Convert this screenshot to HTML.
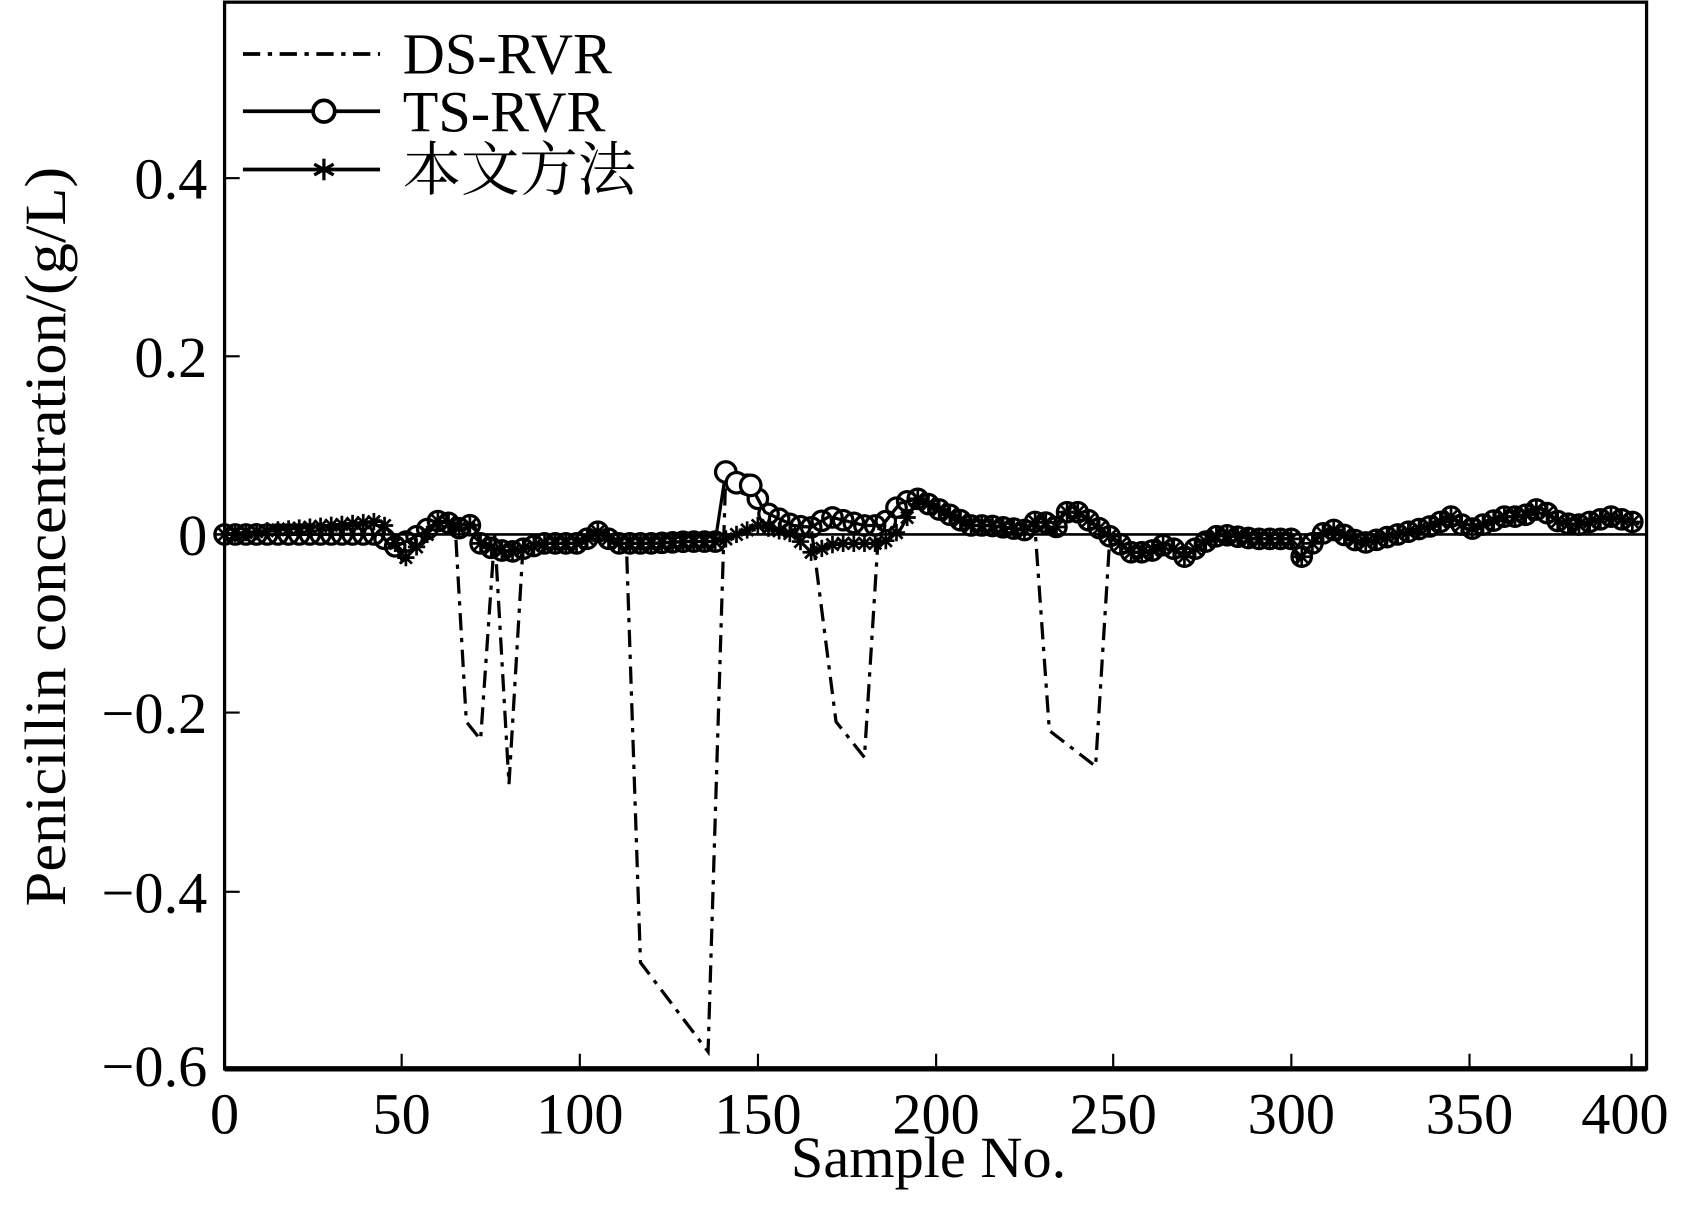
<!DOCTYPE html>
<html><head><meta charset="utf-8"><style>
html,body{margin:0;padding:0;background:#fff;overflow:hidden}
svg{display:block}
text{font-family:"Liberation Serif","Noto Serif CJK SC",serif;fill:#000}
</style></head><body>
<svg id="s" width="1693" height="1220" viewBox="0 0 1568 1130" preserveAspectRatio="none" xmlns="http://www.w3.org/2000/svg">
<rect x="0" y="0" width="1568" height="1130" fill="#fff"/>
<g id="plot"></g>
<rect x="208" y="2" width="1317" height="988" fill="none" stroke="#000" stroke-width="3"/>
<line x1="208" y1="990" x2="1525" y2="990" stroke="#000" stroke-width="5"/>
<g stroke="#000" stroke-width="2">
<line x1="208" y1="165" x2="222" y2="165"/><line x1="208" y1="330" x2="222" y2="330"/>
<line x1="208" y1="660" x2="222" y2="660"/><line x1="208" y1="826" x2="222" y2="826"/>
<line x1="372" y1="990" x2="372" y2="976"/><line x1="537" y1="990" x2="537" y2="976"/>
<line x1="702" y1="990" x2="702" y2="976"/><line x1="867" y1="990" x2="867" y2="976"/>
<line x1="1031" y1="990" x2="1031" y2="976"/><line x1="1196" y1="990" x2="1196" y2="976"/>
<line x1="1361" y1="990" x2="1361" y2="976"/><line x1="1511" y1="990" x2="1511" y2="976"/>
</g>
<g font-size="54" text-anchor="end">
<text x="192" y="184">0.4</text><text x="192" y="349">0.2</text><text x="192" y="514">0</text>
<text x="192" y="679">−0.2</text><text x="192" y="845">−0.4</text><text x="192" y="1006">−0.6</text>
</g>
<g font-size="54" text-anchor="middle">
<text x="208" y="1050">0</text><text x="372" y="1050">50</text><text x="537" y="1050">100</text>
<text x="702" y="1050">150</text><text x="867" y="1050">200</text><text x="1031" y="1050">250</text>
<text x="1196" y="1050">300</text><text x="1361" y="1050">350</text><text x="1505" y="1050">400</text>
<text x="860" y="1090" font-size="54">Sample No.</text>
</g>
<text transform="translate(60,497) rotate(-90)" font-size="54" text-anchor="middle" textLength="685" lengthAdjust="spacingAndGlyphs">Penicillin concentration/(g/L)</text>
<g stroke="#000" stroke-width="3.5" fill="none">
<line x1="225" y1="50" x2="352" y2="50" stroke-dasharray="16,7,4,7"/>
<line x1="225" y1="103" x2="352" y2="103"/>
<circle cx="300" cy="103" r="10" fill="#fff"/>
<line x1="225" y1="157" x2="352" y2="157"/>
</g>
<g stroke="#000" stroke-width="3">
<line x1="300" y1="147" x2="300" y2="167"/><line x1="291" y1="152" x2="309" y2="162"/><line x1="291" y1="162" x2="309" y2="152"/>
</g>
<g font-size="54">
<text x="373" y="68">DS-RVR</text><text x="373" y="122">TS-RVR</text>
<text x="373" y="176" font-family="'Liberation Serif','Noto Serif CJK SC',serif">本文方法</text>
</g>
</svg>
<script>
const X=v=>208+v*3.2925, Y=v=>495-v*826;
function interp(pts,x){for(let i=0;i<pts.length-1;i++){if(x>=pts[i][0]&&x<=pts[i+1][0]){const t=(x-pts[i][0])/(pts[i+1][0]-pts[i][0]||1);return pts[i][1]+t*(pts[i+1][1]-pts[i][1]);}}return pts[pts.length-1][1];}
const ts=[[0,0],[44,0],[47,-0.015],[50,-0.01],[55,0],[60,0.015],[63,0.013],[67,0.005],[70,0.013],[72,-0.01],[75,-0.015],[80,-0.02],[85,-0.015],[90,-0.01],[100,-0.01],[105,0.003],[110,-0.01],[120,-0.01],[130,-0.008],[138,-0.008],[141,0.07],[144,0.058],[148,0.055],[152,0.025],[160,0.01],[165,0.008],[170,0.02],[175,0.015],[180,0.01],[185,0.01],[190,0.035],[195,0.04],[200,0.03],[205,0.02],[210,0.01],[215,0.01],[225,0.005],[230,0.02],[233,0],[236,0.025],[240,0.025],[245,0.01],[250,-0.005],[255,-0.02],[260,-0.02],[265,-0.01],[270,-0.025],[275,-0.01],[280,0],[290,-0.005],[300,-0.005],[302,-0.03],[308,0],[312,0.005],[320,-0.01],[330,0],[340,0.01],[345,0.02],[350,0.005],[360,0.02],[365,0.02],[370,0.03],[375,0.015],[380,0.01],[390,0.02],[395,0.015],[398,0.012]];
const stOver=[[44,0.015],[47,0],[50,-0.03],[55,-0.01],[138,-0.008],[141,-0.005],[150,0.01],[160,0],[165,-0.02],[172,-0.01],[180,-0.01],[185,-0.01],[190,0.005]];
const stPts=ts.filter(p=>p[0]<44||(p[0]>55&&p[0]<138)||p[0]>190).concat(stOver).sort((a,b)=>a[0]-b[0]);
const ds=ts.filter(p=>p[0]<=65||(p[0]>=84&&p[0]<=113)||(p[0]>=141&&p[0]<=165)||(p[0]>=184&&p[0]<=228)||p[0]>=249).concat([[65,0],[68,-0.21],[72,-0.23],[76,0],[80,-0.28],[84,-0.01],[113,-0.01],[117,-0.48],[136,-0.58],[141,0.07],[165,0.008],[172,-0.21],[180,-0.25],[184,0.005],[228,0.005],[232,-0.22],[245,-0.26],[249,-0.005]]).sort((a,b)=>a[0]-b[0]);
const g=document.getElementById('plot');let h='';
h+='<line x1="208" y1="495" x2="1525" y2="495" stroke="#000" stroke-width="2.5"/>';
const path=(pts,extra)=>'<polyline fill="none" stroke="#000" stroke-width="3" '+extra+' points="'+pts.map(p=>X(p[0]).toFixed(1)+','+Y(p[1]).toFixed(1)).join(' ')+'"/>';
h+=path(ds,'stroke-dasharray="16,7,4,7"');
h+=path(ts,'');h+=path(stPts,'');
for(let x=0;x<=398;x+=3){h+='<circle cx="'+X(x).toFixed(1)+'" cy="'+Y(interp(ts,x)).toFixed(1)+'" r="9" fill="none" stroke="#000" stroke-width="3"/>';}
[141,144,148].forEach(x=>{h+='<circle cx="'+X(x)+'" cy="'+Y(interp(ts,x))+'" r="9.5" fill="#fff" stroke="#000" stroke-width="3"/>';});
for(let x=0;x<=398;x+=3){const cx=X(x),cy=Y(interp(stPts,x));for(let a=0;a<180;a+=45){const r=a*Math.PI/180,dx=8*Math.cos(r),dy=8*Math.sin(r);h+='<line x1="'+(cx-dx)+'" y1="'+(cy-dy)+'" x2="'+(cx+dx)+'" y2="'+(cy+dy)+'" stroke="#000" stroke-width="2.5"/>';}}
g.innerHTML=h;
</script>
</body></html>
